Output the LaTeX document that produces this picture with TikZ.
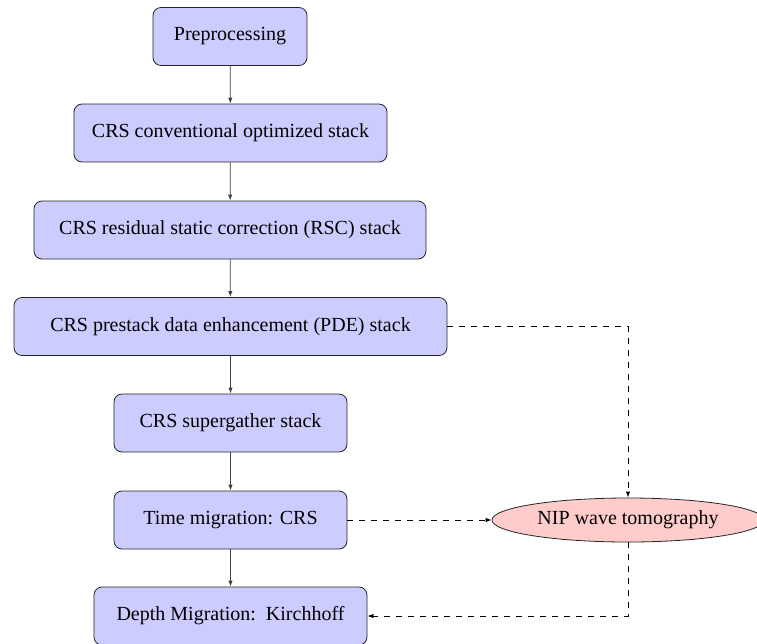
\documentclass[tikz,border=0pt]{standalone}
\usepackage{fontspec}
\setmainfont{Liberation Serif}
\usetikzlibrary{arrows.meta,shapes.geometric}
\begin{document}
\begin{tikzpicture}[x=0.5pt,y=-0.5pt,
  procbox/.style={draw=black!85, fill=blue!20, rounded corners=4pt, line width=0.4pt,
    minimum height=29pt, inner sep=0pt, font=\fontsize{10}{12}\selectfont},
  tomo/.style={ellipse, draw=black!85, fill=red!20, line width=0.4pt,
    minimum width=136pt, minimum height=22pt, inner sep=0pt, font=\fontsize{10}{12}\selectfont},
  flow/.style={draw=black!75, line width=0.4pt, -{Latex[length=3pt,width=2.2pt]}},
  feed/.style={draw=black, line width=0.4pt, dashed, dash pattern=on 3pt off 3pt, -{Latex[length=3pt,width=2.2pt]}}]
  \useasboundingbox (0,0) rectangle (757,644);

  \node[procbox, minimum width=77pt]    (pre)  at (230,36.5) {Preprocessing};
  \node[procbox, minimum width=156.5pt] (conv) at (230.5,133) {CRS conventional optimized stack};
  \node[procbox, minimum width=196pt]   (rsc)  at (230,230) {CRS residual static correction (RSC) stack};
  \node[procbox, minimum width=216.5pt] (pde)  at (230.5,326.5) {CRS prestack data enhancement (PDE) stack};
  \node[procbox, minimum width=116.5pt] (sg)   at (230.5,423) {CRS supergather stack};
  \node[procbox, minimum width=116.5pt] (tm)   at (230.5,520) {Time migration: CRS};
  \node[procbox, minimum width=136.5pt] (dm)   at (230.5,616) {Depth Migration:\ \ Kirchhoff};
  \node[tomo] (nip) at (628,520) {NIP wave tomography};

  \draw[flow] (pre) -- (conv);
  \draw[flow] (conv) -- (rsc);
  \draw[flow] (rsc) -- (pde);
  \draw[flow] (pde) -- (sg);
  \draw[flow] (sg) -- (tm);
  \draw[flow] (tm) -- (dm);

  \draw[feed] (pde.east) -| (nip.north);
  \draw[feed] (tm.east) -- (nip.west);
  \draw[feed] (nip.south) |- (dm.east);
\end{tikzpicture}
\end{document}
